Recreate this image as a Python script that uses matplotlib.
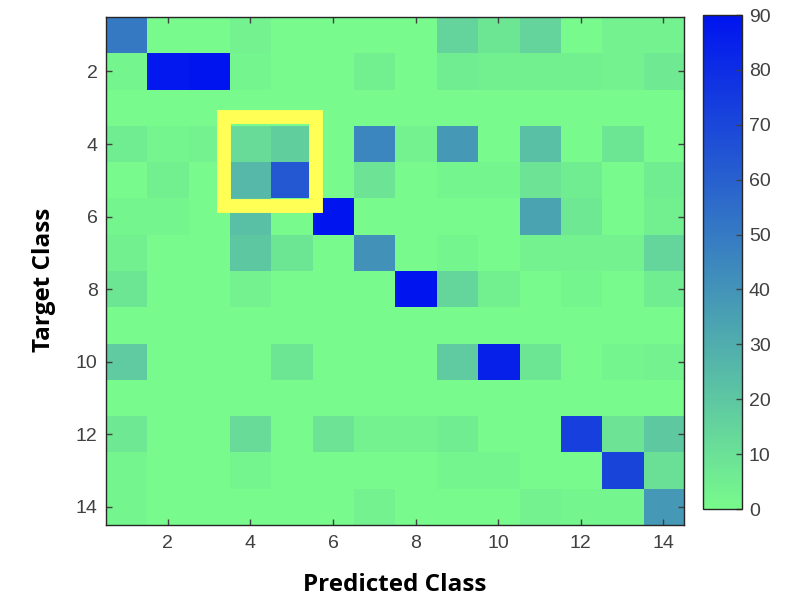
import numpy as np
import matplotlib
matplotlib.use("Agg")
import matplotlib.pyplot as plt
from matplotlib.colors import LinearSegmentedColormap
from matplotlib.patches import Rectangle

##data
classes = list(range(1, 15))
tick_vals = [2, 4, 6, 8, 10, 12, 14]
cbar_ticks = list(range(0, 91, 10))

# confusion counts, one list per target class (rows), predicted class across
row01 = [50, 0, 0, 3, 0, 0, 0, 0, 15, 8, 15, 0, 3, 3]
row02 = [2, 88, 90, 2, 0, 0, 4, 0, 5, 4, 4, 4, 3, 6]
row03 = [0, 0, 0, 0, 0, 0, 0, 0, 0, 0, 0, 0, 0, 0]
row04 = [5, 2, 3, 12, 17, 0, 45, 3, 38, 0, 23, 0, 8, 0]
row05 = [0, 4, 0, 26, 63, 0, 9, 0, 2, 2, 9, 5, 0, 5]
row06 = [2, 2, 0, 23, 0, 90, 0, 0, 0, 0, 34, 7, 0, 4]
row07 = [4, 0, 0, 20, 8, 0, 41, 0, 2, 0, 3, 3, 3, 14]
row08 = [8, 0, 0, 3, 0, 0, 0, 90, 14, 4, 0, 2, 0, 5]
row09 = [0, 0, 0, 0, 0, 0, 0, 0, 0, 0, 0, 0, 0, 0]
row10 = [18, 0, 0, 0, 8, 0, 0, 0, 18, 85, 8, 0, 2, 3]
row11 = [0, 0, 0, 0, 0, 0, 0, 0, 0, 0, 0, 0, 0, 0]
row12 = [7, 0, 0, 12, 0, 9, 3, 3, 5, 0, 0, 73, 9, 19]
row13 = [2, 0, 0, 2, 0, 0, 0, 0, 2, 2, 0, 0, 71, 10]
row14 = [2, 0, 0, 0, 0, 0, 3, 0, 0, 0, 3, 2, 2, 38]

conf = np.array([row01, row02, row03, row04, row05, row06, row07,
                 row08, row09, row10, row11, row12, row13, row14])

# highlighted block (predicted 4-5, target 4-5)
box_x = (3.36, 5.58)
box_y = (3.25, 5.71)

##plot
cmap = LinearSegmentedColormap.from_list('greenblue', ['#78fa8c', '#0014f0'])
tick_col = '#404040'
plt.rcParams['font.family'] = 'Liberation Sans'

fig = plt.figure(figsize=(7.92, 6.08), dpi=100)
ax = fig.add_axes([0.1338, 0.1365, 0.7298, 0.8355])
im = ax.imshow(conf, cmap=cmap, vmin=0, vmax=90, aspect='auto',
               interpolation='nearest',
               extent=[0.5, 14.5, 14.5, 0.5])

ax.add_patch(Rectangle((box_x[0], box_y[0]), box_x[1] - box_x[0], box_y[1] - box_y[0],
                       fill=False, edgecolor='#ffff55', linewidth=10, joinstyle='miter'))

ax.set_xticks(tick_vals)
ax.set_yticks(tick_vals)
ax.tick_params(direction='in', top=True, right=True, length=4, width=1,
               labelsize=14, colors=tick_col, labelcolor=tick_col)
ax.tick_params(axis='x', pad=7)
ax.tick_params(axis='y', pad=6)
for s in ax.spines.values():
    s.set_color('#262626')
    s.set_linewidth(1)

ax.set_xlabel('Predicted Class', fontfamily='Open Sans', fontweight='bold',
              fontsize=17.5, labelpad=15)
ax.set_ylabel('Target Class', fontfamily='Open Sans', fontweight='bold',
              fontsize=17.5, labelpad=14.5)
ax.yaxis.label.set_y(0.482)

cax = fig.add_axes([0.8876, 0.1628, 0.0492, 0.8125])
cb = fig.colorbar(im, cax=cax, ticks=cbar_ticks)
cb.outline.set_edgecolor('#262626')
cb.outline.set_linewidth(1)
cax.tick_params(direction='in', length=4, width=1, labelsize=14, pad=5,
                colors=tick_col, labelcolor=tick_col)

fig.savefig('out.png', dpi=100)
